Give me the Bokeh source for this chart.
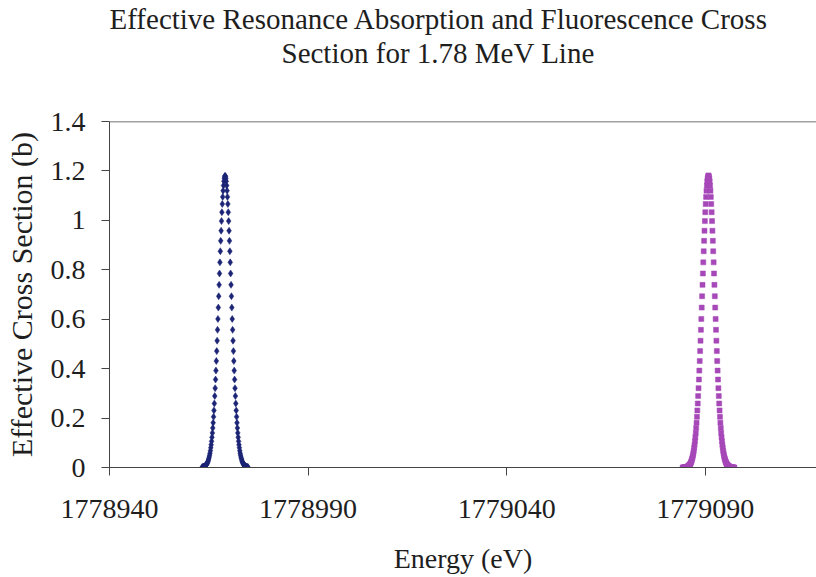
from bokeh.plotting import figure
from bokeh.models import FixedTicker, Range1d, Span, Title, CustomJSTickFormatter, NumeralTickFormatter
from bokeh.embed import file_html
from bokeh.resources import INLINE

title_lines = ["Effective Resonance Absorption and Fluorescence Cross", "Section for 1.78 MeV Line"]
x_label = "Energy (eV)"
y_label = "Effective Cross Section (b)"
x_ticks = [1778940, 1778990, 1779040, 1779090]
y_ticks = [0, 0.2, 0.4, 0.6, 0.8, 1.0, 1.2, 1.4]

absorption_energy = [
    1778963.3, 1778963.4, 1778963.5, 1778963.6, 1778963.7, 1778963.8, 1778963.9,
    1778964.0, 1778964.1, 1778964.2, 1778964.3, 1778964.4, 1778964.5, 1778964.6, 1778964.7, 1778964.8, 1778964.9,
    1778965.0, 1778965.1, 1778965.2, 1778965.3, 1778965.4, 1778965.5, 1778965.6, 1778965.7, 1778965.8, 1778965.9,
    1778966.0, 1778966.1, 1778966.2, 1778966.3, 1778966.4, 1778966.5, 1778966.6, 1778966.7, 1778966.8, 1778966.9,
    1778967.0, 1778967.1, 1778967.2, 1778967.3, 1778967.4, 1778967.5, 1778967.6, 1778967.7, 1778967.8, 1778967.9,
    1778968.0, 1778968.1, 1778968.2, 1778968.3, 1778968.4, 1778968.5, 1778968.6, 1778968.7, 1778968.8, 1778968.9,
    1778969.0, 1778969.1, 1778969.2, 1778969.3, 1778969.4, 1778969.5, 1778969.6, 1778969.7, 1778969.8, 1778969.9,
    1778970.0, 1778970.1, 1778970.2, 1778970.3, 1778970.4, 1778970.5, 1778970.6, 1778970.7, 1778970.8, 1778970.9,
    1778971.0, 1778971.1, 1778971.2, 1778971.3, 1778971.4, 1778971.5, 1778971.6, 1778971.7, 1778971.8, 1778971.9,
    1778972.0, 1778972.1, 1778972.2, 1778972.3, 1778972.4, 1778972.5, 1778972.6, 1778972.7, 1778972.8, 1778972.9,
    1778973.0, 1778973.1, 1778973.2, 1778973.3, 1778973.4, 1778973.5, 1778973.6, 1778973.7, 1778973.8, 1778973.9,
    1778974.0, 1778974.1, 1778974.2, 1778974.3, 1778974.4, 1778974.5, 1778974.6, 1778974.7, 1778974.8, 1778974.9,
]
absorption_sigma = [
    0.001, 0.001, 0.002, 0.002, 0.003, 0.003, 0.004, 0.005, 0.007, 0.008,
    0.010, 0.012, 0.014, 0.017, 0.021, 0.025, 0.030, 0.036, 0.042, 0.050,
    0.058, 0.068, 0.080, 0.092, 0.106, 0.122, 0.140, 0.160, 0.181, 0.205,
    0.231, 0.259, 0.289, 0.321, 0.356, 0.392, 0.431, 0.471, 0.513, 0.557,
    0.601, 0.647, 0.693, 0.739, 0.785, 0.830, 0.875, 0.917, 0.958, 0.997,
    1.033, 1.066, 1.095, 1.120, 1.141, 1.158, 1.170, 1.178,
    1.180,
    1.178, 1.170, 1.158, 1.141, 1.120, 1.095, 1.066, 1.033,
    0.997, 0.958, 0.917, 0.875, 0.830, 0.785, 0.739, 0.693, 0.647, 0.601,
    0.557, 0.513, 0.471, 0.431, 0.392, 0.356, 0.321, 0.289, 0.259, 0.231,
    0.205, 0.181, 0.160, 0.140, 0.122, 0.106, 0.092, 0.080, 0.068, 0.058,
    0.050, 0.042, 0.036, 0.030, 0.025, 0.021, 0.017, 0.014, 0.012, 0.010,
    0.008, 0.007, 0.005, 0.004, 0.003, 0.003, 0.002, 0.002, 0.001, 0.001,
]

fluorescence_energy = [
    1779084.3, 1779084.4, 1779084.5, 1779084.6, 1779084.7, 1779084.8, 1779084.9,
    1779085.0, 1779085.1, 1779085.2, 1779085.3, 1779085.4, 1779085.5, 1779085.6, 1779085.7, 1779085.8, 1779085.9,
    1779086.0, 1779086.1, 1779086.2, 1779086.3, 1779086.4, 1779086.5, 1779086.6, 1779086.7, 1779086.8, 1779086.9,
    1779087.0, 1779087.1, 1779087.2, 1779087.3, 1779087.4, 1779087.5, 1779087.6, 1779087.7, 1779087.8, 1779087.9,
    1779088.0, 1779088.1, 1779088.2, 1779088.3, 1779088.4, 1779088.5, 1779088.6, 1779088.7, 1779088.8, 1779088.9,
    1779089.0, 1779089.1, 1779089.2, 1779089.3, 1779089.4, 1779089.5, 1779089.6, 1779089.7, 1779089.8, 1779089.9,
    1779090.0, 1779090.1, 1779090.2, 1779090.3, 1779090.4, 1779090.5, 1779090.6, 1779090.7, 1779090.8, 1779090.9,
    1779091.0, 1779091.1, 1779091.2, 1779091.3, 1779091.4, 1779091.5, 1779091.6, 1779091.7, 1779091.8, 1779091.9,
    1779092.0, 1779092.1, 1779092.2, 1779092.3, 1779092.4, 1779092.5, 1779092.6, 1779092.7, 1779092.8, 1779092.9,
    1779093.0, 1779093.1, 1779093.2, 1779093.3, 1779093.4, 1779093.5, 1779093.6, 1779093.7, 1779093.8, 1779093.9,
    1779094.0, 1779094.1, 1779094.2, 1779094.3, 1779094.4, 1779094.5, 1779094.6, 1779094.7, 1779094.8, 1779094.9,
    1779095.0, 1779095.1, 1779095.2, 1779095.3, 1779095.4, 1779095.5, 1779095.6, 1779095.7, 1779095.8, 1779095.9,
    1779096.0, 1779096.1, 1779096.2, 1779096.3, 1779096.4, 1779096.5, 1779096.6, 1779096.7, 1779096.8, 1779096.9,
    1779097.0, 1779097.1, 1779097.2, 1779097.3,
]
fluorescence_sigma = [
    0.000, 0.000, 0.000, 0.000, 0.000, 0.001, 0.001,
    0.001, 0.001, 0.002, 0.002, 0.003, 0.003, 0.004, 0.005, 0.007, 0.008,
    0.010, 0.012, 0.014, 0.017, 0.021, 0.025, 0.030, 0.036, 0.042, 0.050,
    0.058, 0.068, 0.080, 0.092, 0.106, 0.122, 0.140, 0.160, 0.181, 0.205,
    0.231, 0.259, 0.289, 0.321, 0.356, 0.392, 0.431, 0.471, 0.513, 0.557,
    0.601, 0.647, 0.693, 0.739, 0.785, 0.830, 0.875, 0.917, 0.958, 0.997,
    1.033, 1.066, 1.095, 1.120, 1.141, 1.158, 1.170, 1.178,
    1.182,
    1.178, 1.170, 1.158, 1.141, 1.120, 1.095, 1.066, 1.033,
    0.997, 0.958, 0.917, 0.875, 0.830, 0.785, 0.739, 0.693, 0.647, 0.601,
    0.557, 0.513, 0.471, 0.431, 0.392, 0.356, 0.321, 0.289, 0.259, 0.231,
    0.205, 0.181, 0.160, 0.140, 0.122, 0.106, 0.092, 0.080, 0.068, 0.058,
    0.050, 0.042, 0.036, 0.030, 0.025, 0.021, 0.017, 0.014, 0.012, 0.010,
    0.008, 0.007, 0.005, 0.004, 0.003, 0.003, 0.002, 0.002, 0.001, 0.001,
    0.001, 0.001, 0.000, 0.000, 0.000, 0.000, 0.000,
]

FONT = "Liberation Serif"
TXT = "#1e1e1e"
AX = "#444444"

p = figure(width=816, height=577, output_backend="svg", toolbar_location=None,
           x_range=Range1d(1778940, 1779118), y_range=Range1d(0, 1.4),
           min_border_left=109, min_border_right=0, min_border_top=121, min_border_bottom=110)
p.background_fill_color = "white"
p.border_fill_color = "white"
p.outline_line_color = None
p.grid.visible = False

p.scatter(absorption_energy, absorption_sigma, marker="diamond", size=7,
          fill_color="#1c2575", line_color="#1c2575", line_width=0.5)
p.scatter(fluorescence_energy, fluorescence_sigma, marker="square", size=5,
          fill_color="#a648b8", line_color="#a648b8", line_width=0.5)

p.add_layout(Span(location=1.4, dimension="width", line_color=AX, line_width=1.5))

for ax in (p.xaxis[0], p.yaxis[0]):
    ax.axis_line_color = AX
    ax.major_tick_line_color = AX
    ax.minor_tick_line_color = None
    ax.major_tick_out = 8
    ax.major_tick_in = 0
    ax.major_label_text_font = FONT
    ax.major_label_text_font_size = "28px"
    ax.major_label_text_color = TXT
    ax.axis_label_text_font = FONT
    ax.axis_label_text_font_style = "normal"
    ax.axis_label_text_color = TXT

p.xaxis[0].ticker = FixedTicker(ticks=x_ticks)
p.xaxis[0].formatter = NumeralTickFormatter(format="0")
p.xaxis[0].major_label_standoff = 24
p.xaxis[0].axis_label = x_label
p.xaxis[0].axis_label_text_font_size = "28px"
p.xaxis[0].axis_label_standoff = 22

p.yaxis[0].ticker = FixedTicker(ticks=y_ticks)
p.yaxis[0].formatter = CustomJSTickFormatter(code="return String(Math.round(tick*10)/10);")
p.yaxis[0].major_label_standoff = 16
p.yaxis[0].axis_label = y_label
p.yaxis[0].axis_label_text_font_size = "30px"
p.yaxis[0].axis_label_standoff = 10

# blank spacer between the title block and the plot frame
p.add_layout(Title(text=" ", text_font=FONT, text_font_size="46px", standoff=0), "above")
p.add_layout(Title(text=title_lines[1], text_font=FONT, text_font_size="29px",
                   text_font_style="normal", text_color=TXT, align="left", offset=172,
                   standoff=0), "above")
p.add_layout(Title(text=title_lines[0], text_font=FONT, text_font_size="29px",
                   text_font_style="normal", text_color=TXT, align="left", offset=0,
                   standoff=0), "above")

open("out.html", "w").write(file_html(p, INLINE))
